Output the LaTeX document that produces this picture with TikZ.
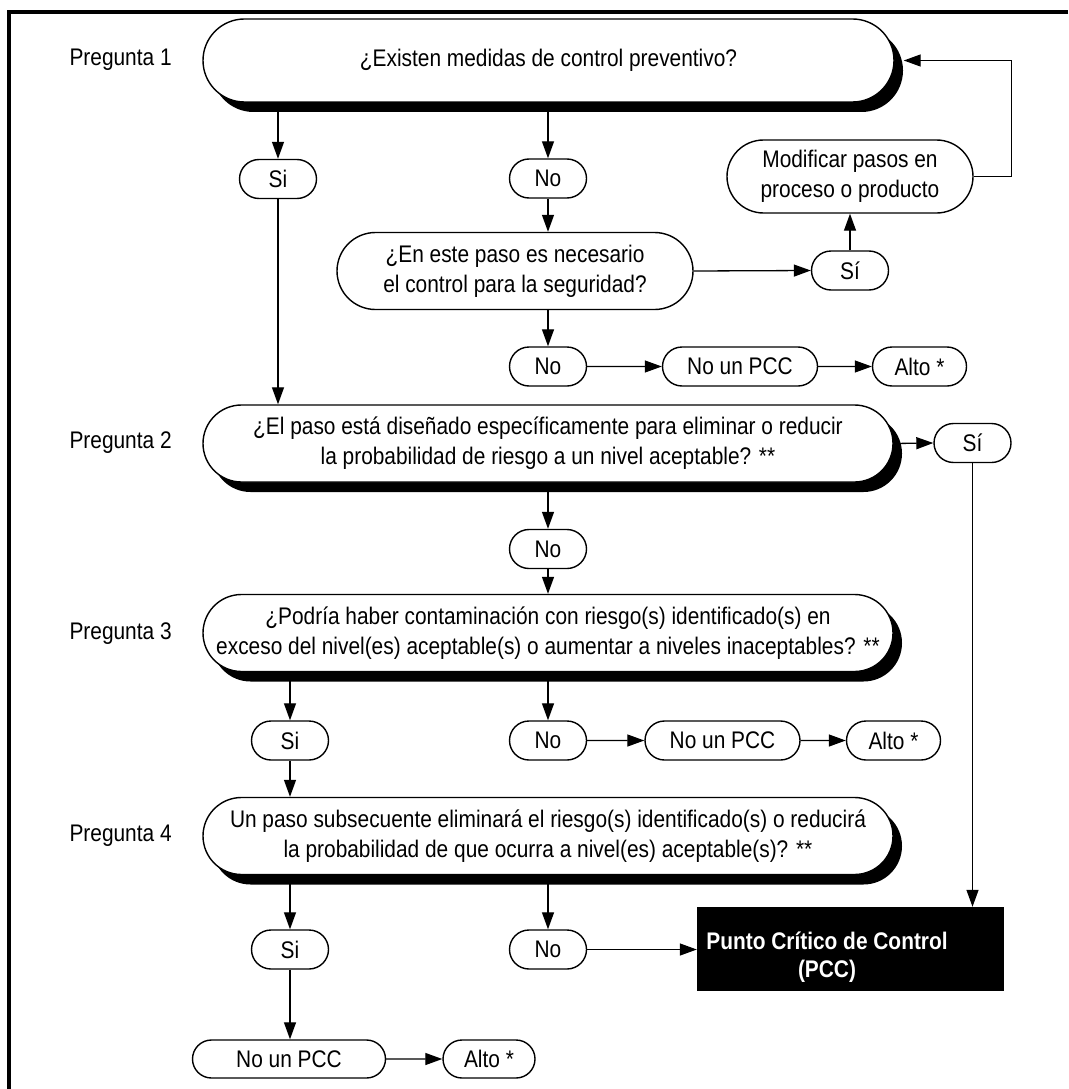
\documentclass[tikz,border=0pt]{standalone}
\usepackage{fontspec}
\setmainfont{Liberation Sans}[FakeStretch=0.87]
\usetikzlibrary{shapes.misc,arrows.meta,shadows,calc}

\begin{document}
\begin{tikzpicture}[x=1pt,y=-1pt,
  every node/.style={font=\fontsize{24}{30}\selectfont},
  pill/.style={rounded rectangle, draw, line width=1.4pt, fill=white,
    inner sep=0pt, align=center},
  question/.style={pill, minimum width=690pt, minimum height=77pt,
    drop shadow={shadow xshift=9pt, shadow yshift=-10pt, fill=black, opacity=1}},
  answer/.style={pill, minimum width=77pt, minimum height=39pt},
  notpcc/.style={pill, minimum width=155pt, minimum height=39pt},
  stopbox/.style={pill, minimum width=94pt, minimum height=39pt},
  qlabel/.style={anchor=west},
  link/.style={line width=1.3pt},
  arr/.style={link, -{Triangle[length=17pt,width=12pt]}}
]
% page and frame (top and left rules)
\useasboundingbox (0,0) rectangle (1068,1089);
\draw[line width=4pt] (1068,12) -- (8.5,12) -- (8.5,1089);

% question labels
\node[qlabel] (p1) at (66,60) {Pregunta 1};
\node[qlabel] (p2) at (66,443) {Pregunta 2};
\node[qlabel] (p3) at (66,634) {Pregunta 3};
\node[qlabel] (p4) at (66,836) {Pregunta 4};

% question 1 block
\node[question, minimum width=691pt, minimum height=83pt] (q1) at (548.5,60.5)
  {¿Existen medidas de control preventivo?};
\node[answer] (si1) at (278,179) {Si};
\node[answer] (no1) at (548,178.5) {No};
\node[pill, minimum width=246pt, minimum height=73pt] (mod) at (850,176.5)
  {Modificar pasos en\\proceso o producto};
\node[pill, minimum width=356pt, minimum height=77pt] (q1b) at (515,271)
  {¿En este paso es necesario\\el control para la seguridad?};
\node[answer] (si2) at (850,270.5) {Sí};
\node[answer] (no2) at (548,366.5) {No};
\node[notpcc] (npcc1) at (740,366.5) {No un PCC};
\node[stopbox] (alto1) at (919.5,366.5) {Alto *};

% question 2 block
\node[question] (q2) at (548,443.5)
  {¿El paso está diseñado específicamente para eliminar o reducir\\
   la probabilidad de riesgo a un nivel aceptable? **};
\node[answer] (si3) at (972.5,443) {Sí};
\node[answer] (no3) at (548,549) {No};

% question 3 block
\node[question] (q3) at (548,633)
  {¿Podría haber contaminación con riesgo(s) identificado(s) en\\
   exceso del nivel(es) aceptable(s) o aumentar a niveles inaceptables? **};
\node[answer] (si4) at (290,740.5) {Si};
\node[answer] (no4) at (548,740.5) {No};
\node[notpcc] (npcc2) at (722.5,740.5) {No un PCC};
\node[stopbox] (alto2) at (893.5,740.5) {Alto *};

% question 4 block
\node[question] (q4) at (548,836)
  {Un paso subsecuente eliminará el riesgo(s) identificado(s) o reducirá\\
   la probabilidad de que ocurra a nivel(es) aceptable(s)? **};
\node[answer] (si5) at (290,949.5) {Si};
\node[answer] (no5) at (548,949.5) {No};
\node[fill=black, draw=black, minimum width=306pt, minimum height=83pt,
  inner sep=0pt] (pcc) at (850,948.5) {};
\node[text=white, font=\fontsize{24}{28}\selectfont\bfseries, align=center]
  (pcctext) at (827,957) {Punto Crítico de Control\\(PCC)};
\node[pill, minimum width=193pt, minimum height=38pt] (npcc3) at (289,1059) {No un PCC};
\node[stopbox, minimum width=92pt, minimum height=38pt] (alto3) at (489,1059) {Alto *};

% connectors
\draw[arr] (q1.south -| si1) -- (si1.north);
\draw[arr] (q1.south -| no1) -- (no1.north);
\draw[arr] (no1.south) -- (no1.south |- q1b.north);
\draw[arr] (q1b.east) -- (si2.west);
\draw[arr] (si2.north) -- (mod.south);
\draw[arr] (mod.east) -- ++(38,0) |- ([xshift=9pt]q1.east);
\draw[arr] (q1b.south -| no2) -- (no2.north);
\draw[arr] (no2) -- (npcc1);
\draw[arr] (npcc1) -- (alto1);
\draw[arr] (si1.south) -- (si1.south |- q2.north);

\draw[arr] (q2.east) -- (si3.west);
\draw[arr] (si3.south) -- (si3.south |- pcc.north);
\draw[arr] (q2.south -| no3) -- (no3.north);
\draw[arr] (no3.south) -- (no3.south |- q3.north);

\draw[arr] (q3.south -| si4) -- (si4.north);
\draw[arr] (q3.south -| no4) -- (no4.north);
\draw[arr] (no4) -- (npcc2);
\draw[arr] (npcc2) -- (alto2);
\draw[arr] (si4.south) -- (si4.south |- q4.north);

\draw[arr] (q4.south -| si5) -- (si5.north);
\draw[arr] (q4.south -| no5) -- (no5.north);
\draw[arr] (no5.east) -- (no5.east -| pcc.west);
\draw[arr] (si5.south) -- (si5.south |- npcc3.north);
\draw[arr] (npcc3) -- (alto3);
\end{tikzpicture}
\end{document}
